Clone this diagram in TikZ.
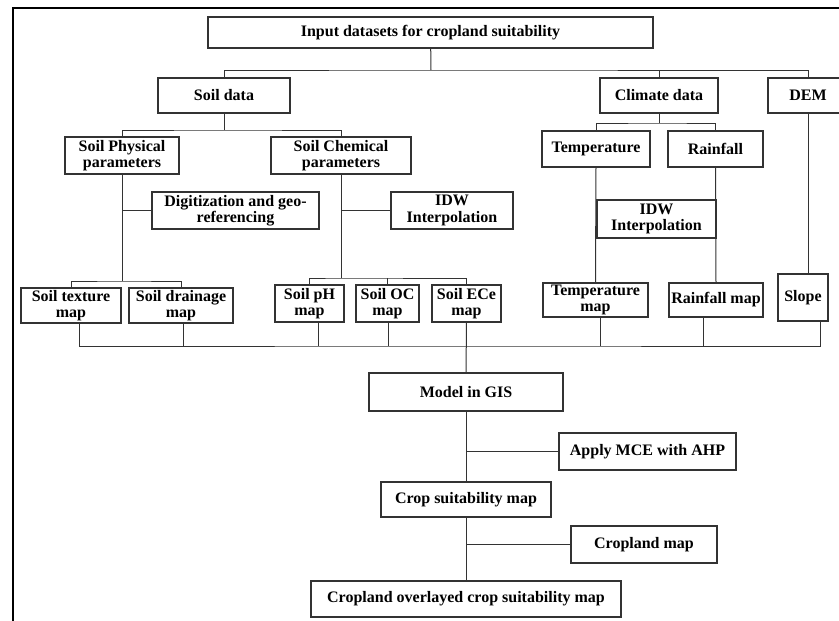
\documentclass[tikz,border=0pt]{standalone}
\usepackage{fontspec}
\setmainfont{Liberation Serif}
\usetikzlibrary{positioning,calc}

\begin{document}
\begin{tikzpicture}[
    x=1pt, y=-1pt,
    font=\fontsize{16}{16.5}\selectfont\bfseries,
    box/.style={draw=black!80, line width=1.1pt, align=center, inner sep=0pt,
                fill=white},
    link/.style={line width=1pt, draw=black!80},
    frame/.style={line width=2pt, draw=black},
  ]
  \useasboundingbox (0,0) rectangle (839,621);

  % top level
  \node[box, minimum width=445pt, minimum height=31pt] (title) at (430.5,32.5)
       {Input datasets for cropland suitability};
  \node[box, minimum width=132pt, minimum height=35pt] (soil) at (224,95.5) {Soil data};
  \node[box, minimum width=118pt, minimum height=35pt] (climate) at (659,95.5) {Climate data};
  \node[box, minimum width=80pt, minimum height=35pt] (dem) at (808,95.5) {DEM};

  % soil branch
  \node[box, minimum width=114pt, minimum height=37pt] (physical) at (122,155.5)
       {Soil Physical\\parameters};
  \node[box, minimum width=140pt, minimum height=37pt] (chemical) at (341,155.5)
       {Soil Chemical\\parameters};
  \node[box, minimum width=167pt, minimum height=37pt] (digit) at (235.5,210.5)
       {Digitization and geo-\\referencing};
  \node[box, minimum width=122pt, minimum height=37pt] (idwsoil) at (452,210.5)
       {IDW\\Interpolation};
  \node[box, minimum width=100pt, minimum height=35pt] (texture) at (71,305.5)
       {Soil texture\\map};
  \node[box, minimum width=104pt, minimum height=35pt] (drainage) at (181,305.5)
       {Soil drainage\\map};
  \node[box, minimum width=69pt, minimum height=37pt] (ph) at (309.5,303.5) {Soil pH\\map};
  \node[box, minimum width=63pt, minimum height=37pt] (oc) at (387.5,303.5) {Soil OC\\map};
  \node[box, minimum width=69pt, minimum height=37pt] (ece) at (466.5,303.5) {Soil ECe\\map};

  % climate branch
  \node[box, minimum width=108pt, minimum height=36pt] (temp) at (596,149) {Temperature};
  \node[box, minimum width=95pt, minimum height=36pt] (rain) at (715.5,149) {Rainfall};
  \node[box, minimum width=119pt, minimum height=38pt] (idwclim) at (656.5,219)
       {IDW\\Interpolation};
  \node[box, minimum width=105pt, minimum height=34pt] (tempmap) at (595.5,300)
       {Temperature\\map};
  \node[box, minimum width=94pt, minimum height=34pt] (rainmap) at (716,300) {Rainfall map};
  \node[box, minimum width=50pt, minimum height=47pt] (slope) at (803,297.5) {Slope};

  % modelling
  \node[box, minimum width=194pt, minimum height=38pt] (model) at (466,392) {Model in GIS};
  \node[box, minimum width=177pt, minimum height=37pt] (mce) at (647.5,451.5)
       {Apply MCE with AHP};
  \node[box, minimum width=170pt, minimum height=35pt] (crop) at (466,499.5)
       {Crop suitability map};
  \node[box, minimum width=146pt, minimum height=37pt] (cropland) at (644,544.5)
       {Cropland map};
  \node[box, minimum width=310pt, minimum height=36pt] (overlay) at (466,599)
       {Cropland overlayed crop suitability map};

  % bus points
  \coordinate (topbus) at (431,70);
  \coordinate (soilbus) at (224,130);
  \coordinate (physbus) at (122,281);
  \coordinate (chembus) at (341,278);
  \coordinate (climbus) at (659,123);
  \coordinate (mapbus) at (466,346);

  \begin{scope}[link]
    \draw (title) -- (topbus);
    \draw (soil.north) |- (topbus) -| (dem.north);
    \draw (climate.north) -- (climate.north |- topbus);

    \draw (soil) -- (soilbus);
    \draw (physical.north) |- (soilbus) -| (chemical.north);
    \draw (physical.south) -- (physbus);
    \draw (digit.west) -- (digit.west -| physbus);
    \draw (texture.north) |- (physbus) -| (drainage.north);
    \draw (chemical.south) -- (chembus);
    \draw (idwsoil.west) -- (idwsoil.west -| chembus);
    \draw (ph.north) |- (chembus) -| (ece.north);
    \draw (oc.north) -- (oc.north |- chembus);

    \draw (climate) -- (climbus);
    \draw (temp.north) |- (climbus) -| (rain.north);
    \draw (temp.south) -- (tempmap.north);
    \draw (rain.south) -- (rainmap.north);
    \draw (dem.south) -- (dem.south |- slope.north);

    % all maps join the model
    \draw ($(texture.south)+(8,0)$) |- (mapbus) -| ($(slope.south)+(17,0)$);
    \foreach \n/\d in {drainage/2, ph/8.5, oc/0.5, tempmap/4.5, rainmap/-13} {
      \path ($(\n.south)+(\d,0)$) coordinate (drop);
      \draw (drop) -- (drop |- mapbus);
    }
    \draw (ece.south) -- (model.north);

    \draw (model) -- (crop);
    \draw (mce.west) -- (mce.west -| model.south);
    \draw (crop) -- (overlay);
    \draw (cropland.west) -- (cropland.west -| crop.south);
  \end{scope}

  % redraw IDW box border on top of the two stems
  \node[box, fill=none, minimum width=119pt, minimum height=38pt] at (idwclim) {};

  \draw[frame] (13,621) -- (13,8) -- (839,8);
\end{tikzpicture}
\end{document}
